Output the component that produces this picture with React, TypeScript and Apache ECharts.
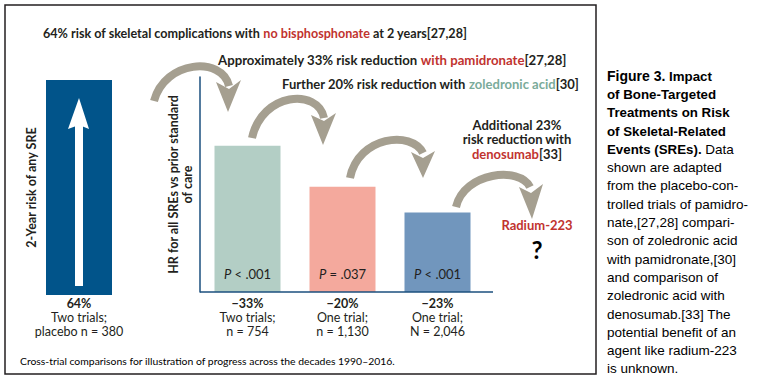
import React, { useEffect, useRef } from 'react';
import * as echarts from 'echarts';

const placeboCategory = ['No bisphosphonate'];
const placeboRisk = [64];
const placeboNotes = ['64%', 'Two trials;', 'placebo n = 380'];
const treatments = ['Pamidronate', 'Zoledronic acid', 'Denosumab'];
const hazardRatios = [0.68, 0.49, 0.37];
const pValues = ['< .001', '= .037', '< .001'];
const riskChanges = ['\u221233%', '\u221220%', '\u221223%'];
const trialCounts = ['Two trials;', 'One trial;', 'One trial;'];
const sampleSizes = ['n = 754', 'n = 1,130', 'N = 2,046'];

const NAVY = '#01548a';
const AXIS = '#1b4f7e';
const ARROW = '#a59f90';
const RED = '#c1332f';
const GREEN = '#7aab9a';
const TEXT = '#231f20';
const FIGBLUE = '#1f5f8f';
const barColors = ['#b3cec5', '#f4a99d', '#7196bd'];

const FONT = 'Lato, "Open Sans", sans-serif';
const CAPFONT = '"Liberation Sans", Arial, sans-serif';

function arrow(x1: number, y1: number, c1x: number, c1y: number, c2x: number, c2y: number, x2: number, y2: number, head: number[][]) {
  return [
    {
      type: 'bezierCurve',
      shape: { x1, y1, cpx1: c1x, cpy1: c1y, cpx2: c2x, cpy2: c2y, x2, y2 },
      style: { stroke: ARROW, lineWidth: 8, fill: null, lineCap: 'butt' },
      z: 10,
    },
    { type: 'polygon', shape: { points: head }, style: { fill: ARROW }, z: 10 },
  ];
}

function txt(x: number, y: number, text: string, rich: any, align = 'left', extra: any = {}) {
  return {
    type: 'text',
    x,
    y,
    z: 20,
    style: {
      text,
      rich,
      align,
      textAlign: align,
      verticalAlign: 'middle',
      textVerticalAlign: 'middle',
      ...extra,
    },
  };
}

const boldRich = (size: number) => ({
  n: { fontFamily: FONT, fontSize: size, fontWeight: 'bold', fill: TEXT, color: TEXT },
  r: { fontFamily: FONT, fontSize: size, fontWeight: 'bold', fill: RED, color: RED },
  g: { fontFamily: FONT, fontSize: size, fontWeight: 'bold', fill: GREEN, color: GREEN },
});

export default function App() {
  const ref = useRef<HTMLDivElement>(null);
  useEffect(() => {
    if (!ref.current) return;
    const chart = echarts.init(ref.current, undefined, { renderer: 'svg' });

    const capRich: any = {
      f: { fontFamily: CAPFONT, fontSize: 14, fontWeight: 'bold', color: FIGBLUE, lineHeight: 18.3 },
      b: { fontFamily: CAPFONT, fontSize: 13.3, fontWeight: 'bold', color: TEXT, lineHeight: 18.3 },
      t: { fontFamily: CAPFONT, fontSize: 13.5, color: TEXT, lineHeight: 18.3 },
    };
    const caption = [
      '{f|Figure 3.}{b| Impact}',
      '{b|of Bone-Targeted}',
      '{b|Treatments on Risk}',
      '{b|of Skeletal-Related}',
      '{b|Events (SREs).}{t| Data}',
      '{t|shown are adapted}',
      '{t|from the placebo-con-}',
      '{t|trolled trials of pamidro-}',
      '{t|nate,[27,28] compari-}',
      '{t|son of zoledronic acid}',
      '{t|with pamidronate,[30]}',
      '{t|and comparison of}',
      '{t|zoledronic acid with}',
      '{t|denosumab.[33] The}',
      '{t|potential benefit of an}',
      '{t|agent like radium-223}',
      '{t|is unknown.}',
    ].join('\n');

    const labelRich = {
      b: { fontFamily: FONT, fontSize: 12.5, fontWeight: 'bold', color: TEXT, lineHeight: 14 },
      t: { fontFamily: FONT, fontSize: 12.5, color: TEXT, lineHeight: 14 },
    };

    const option: any = {
      animation: false,
      backgroundColor: '#ffffff',
      grid: [
        { left: 46, top: 80, width: 66, height: 215 },
        { left: 200, top: 77, width: 285, height: 215 },
      ],
      xAxis: [
        {
          type: 'category',
          gridIndex: 0,
          data: placeboCategory,
          axisLine: { show: false },
          axisTick: { show: false },
          axisLabel: {
            margin: 1,
            formatter: () => `{b|${placeboNotes[0]}}\n{t|${placeboNotes[1]}}\n{t|${placeboNotes[2]}}`,
            rich: labelRich,
          },
        },
        {
          type: 'category',
          gridIndex: 1,
          data: treatments,
          axisLine: { show: false },
          axisTick: { show: false },
          axisLabel: {
            margin: 4,
            interval: 0,
            formatter: (_v: string, i: number) => `{b|${riskChanges[i]}}\n{t|${trialCounts[i]}}\n{t|${sampleSizes[i]}}`,
            rich: labelRich,
          },
        },
      ],
      yAxis: [
        {
          type: 'value',
          gridIndex: 0,
          min: 0,
          max: 64,
          axisLine: { show: false },
          axisTick: { show: false },
          axisLabel: { show: false },
          splitLine: { show: false },
          name: '2-Year risk of any SRE',
          nameLocation: 'middle',
          nameRotate: 90,
          nameGap: 8,
          nameTextStyle: { fontFamily: FONT, fontSize: 12.5, fontWeight: 'bold', color: TEXT },
        },
        {
          type: 'value',
          gridIndex: 1,
          min: 0,
          max: 1,
          axisLine: { show: true, lineStyle: { color: AXIS, width: 1.5 } },
          axisTick: { show: false },
          axisLabel: { show: false },
          splitLine: { show: false },
          name: 'HR for all SREs vs prior standard\nof care',
          nameLocation: 'middle',
          nameRotate: 90,
          nameGap: 6,
          nameTextStyle: { fontFamily: FONT, fontSize: 12.5, fontWeight: 'bold', color: TEXT, lineHeight: 14 },
        },
      ],
      series: [
        {
          type: 'bar',
          xAxisIndex: 0,
          yAxisIndex: 0,
          data: placeboRisk,
          barWidth: '100%',
          itemStyle: { color: NAVY },
        },
        {
          type: 'bar',
          xAxisIndex: 1,
          yAxisIndex: 1,
          barWidth: 66,
          data: hazardRatios.map((v, i) => ({ value: v, itemStyle: { color: barColors[i] } })),
          label: {
            show: true,
            position: 'insideBottom',
            distance: 12,
            formatter: (p: any) => `{i|P} {t|${pValues[p.dataIndex]}}`,
            rich: {
              i: { fontFamily: FONT, fontSize: 13, fontStyle: 'italic', color: TEXT },
              t: { fontFamily: FONT, fontSize: 13, color: TEXT },
            },
          },
        },
      ],
      graphic: [
        { type: 'rect', shape: { x: 5, y: 5, width: 591, height: 369 }, style: { fill: null, stroke: TEXT, lineWidth: 1.5 }, z: 1 },
        { type: 'line', shape: { x1: 200, y1: 292, x2: 493, y2: 292 }, style: { stroke: AXIS, lineWidth: 1.5 }, z: 5 },
        // white arrow in placebo bar
        { type: 'rect', shape: { x: 75, y: 124, width: 8, height: 162 }, style: { fill: '#ffffff' }, z: 6 },
        { type: 'polygon', shape: { points: [[79, 98], [89, 129], [79, 125], [68, 129]] }, style: { fill: '#ffffff' }, z: 6 },
        ...arrow(154, 101, 165, 60, 222, 56, 229, 86, [[228, 112], [216, 82], [229, 89], [241, 80]]),
        ...arrow(252, 138, 262, 92, 318, 88, 324, 118, [[323, 145], [311, 115], [324, 121], [336, 113]]),
        ...arrow(350, 178, 358, 136, 412, 130, 423, 153, [[423, 178], [411, 152], [423, 158], [435, 151]]),
        ...arrow(456, 207, 464, 172, 520, 166, 530, 187, [[532, 219], [519, 187], [531, 193], [543, 184]]),
        txt(43, 33, '{n|64% risk of skeletal complications with }{r|no bisphosphonate}{n| at 2 years[27,28]}', boldRich(12.6)),
        txt(218, 60, '{n|Approximately 33% risk reduction }{r|with pamidronate}{n|[27,28]}', boldRich(13.2)),
        txt(282, 84, '{n|Further 20% risk reduction with }{g|zoledronic acid}{n|[30]}', boldRich(13)),
        txt(517, 139, '{n|Additional 23%}\n{n|risk reduction with}\n{r|denosumab}{n|[33]}', {
          n: { ...boldRich(13).n, lineHeight: 14.5 },
          r: { ...boldRich(13).r, lineHeight: 14.5 },
        }, 'center'),
        txt(537, 225, '{r|Radium-223}', boldRich(13), 'center'),
        txt(537, 249, '{q|?}', { q: { fontFamily: FONT, fontSize: 24, fontWeight: 'bold', color: TEXT } }, 'center'),
        txt(20, 361, '{t|Cross-trial comparisons for illustration of progress across the decades 1990\u20132016.}', {
          t: { fontFamily: FONT, fontSize: 10.4, color: TEXT },
        }),
        {
          type: 'text',
          x: 607,
          y: 67,
          z: 20,
          style: { text: caption, rich: capRich, align: 'left', textAlign: 'left', verticalAlign: 'top', textVerticalAlign: 'top' },
        },
      ],
    };
    chart.setOption(option);
    return () => chart.dispose();
  }, []);
  return <div ref={ref} style={{ position: 'fixed', left: 0, top: 0, width: 758, height: 385 }} />;
}
